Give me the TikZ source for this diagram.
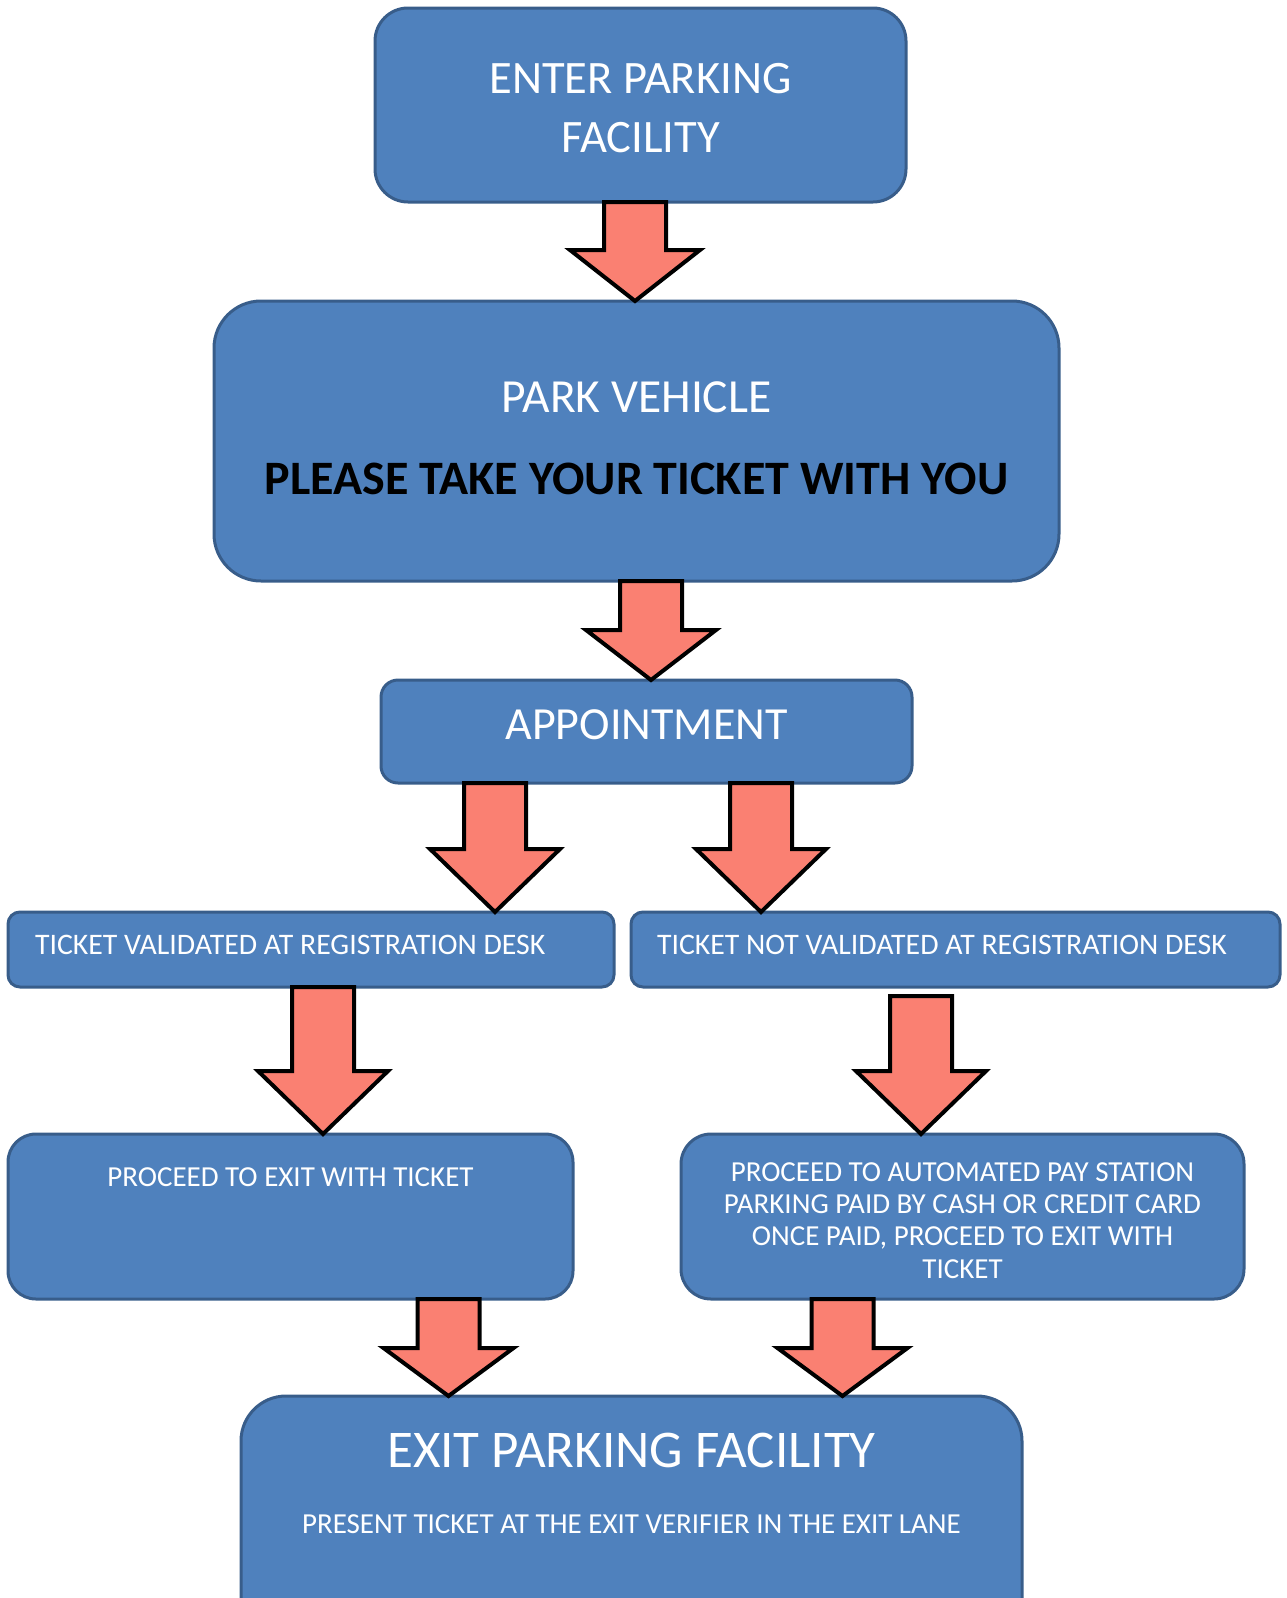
\documentclass[tikz,border=0pt]{standalone}
\usepackage{fontspec}
\setmainfont{Carlito}
\usepackage{xcolor}
\usepackage{tikz}
\usetikzlibrary{positioning}
\definecolor{boxblue}{HTML}{4F81BD}
\definecolor{boxedge}{HTML}{385D8A}
\definecolor{arrowred}{HTML}{FA8072}
\tikzstyle{bluebox}    = [rectangle, draw=boxedge, fill=boxblue, line width=3pt, outer sep=0pt, text=white, align=center]
\tikzstyle{bigfont}    = [font=\fontsize{46.5}{59}\selectfont]
\tikzstyle{smallfont}  = [font=\fontsize{29}{32.3}\selectfont]
\tikzstyle{blockarrow} = [draw=black, fill=arrowred, line width=4pt, line join=miter]

% block arrow: shaft x, from, to, head length
\newcommand{\bigarrow}[4]{%
  \path (#2 -| #1,0) coordinate (shaft) (#3 -| #1,0) coordinate (tip);
  \draw [blockarrow] ([xshift=-31pt]shaft) -- ([xshift=31pt]shaft)
    -- ([xshift=31pt,yshift=#4pt]tip) -- ([xshift=65pt,yshift=#4pt]tip) -- (tip)
    -- ([xshift=-65pt,yshift=#4pt]tip) -- ([xshift=-31pt,yshift=#4pt]tip) -- cycle;
}

\begin{document}
\begin{tikzpicture}[x=1pt, y=1pt]
    \useasboundingbox (0,0) rectangle (1286,-1598);
    \clip (0,0) rectangle (1286,-1598);

    \node (enter) [bluebox, bigfont, minimum width=531pt, minimum height=194pt, rounded corners=33pt, text height=94pt, text depth=0pt] at (640.5,-105) {ENTER PARKING\\FACILITY};
    \node (park) [bluebox, bigfont, minimum width=845pt, minimum height=280pt, rounded corners=47pt, text height=107pt, text depth=0pt, below=99pt of enter, xshift=-4pt] {{\fontsize{47.5}{59}\selectfont PARK VEHICLE}\\[23.5pt]\textcolor{black}{\fontsize{48}{59}\selectfont\bfseries PLEASE TAKE YOUR TICKET WITH YOU}};
    \node (appt) [bluebox, font=\fontsize{46}{59}\selectfont, minimum width=531pt, minimum height=103pt, rounded corners=17pt, text height=30pt, text depth=15pt, below=99pt of park, xshift=10pt] {APPOINTMENT};
    \node (val) [bluebox, font=\fontsize{29.8}{33}\selectfont, minimum height=75pt, rounded corners=12pt, text width=552pt, inner xsep=27pt, align=flush left, text depth=9pt, below=129pt of appt, xshift=-335.5pt] {TICKET VALIDATED AT REGISTRATION DESK};
    \node (notval) [bluebox, font=\fontsize{29.8}{33}\selectfont, minimum height=75pt, rounded corners=12pt, text width=597pt, inner xsep=26pt, align=flush left, text depth=9pt, right=17pt of val] {TICKET NOT VALIDATED AT REGISTRATION DESK};
    \node (exitw) [bluebox, smallfont, minimum width=565pt, minimum height=165pt, rounded corners=28pt, text depth=79pt, below=147pt of val.south west, anchor=north west] {PROCEED TO EXIT WITH TICKET};
    \node (payst) [bluebox, smallfont, minimum width=563pt, minimum height=165pt, rounded corners=30pt, text height=123.4pt, text depth=0pt, right=108pt of exitw] {PROCEED TO AUTOMATED PAY STATION\\PARKING PAID BY CASH OR CREDIT CARD\\ONCE PAID, PROCEED TO EXIT WITH\\TICKET};
    \node (exitf) [bluebox, smallfont, minimum width=781pt, rounded corners=45pt, inner ysep=37pt, text depth=150pt, below=97pt of exitw, xshift=341pt] {{\fontsize{53}{62}\selectfont EXIT PARKING FACILITY}\\[34pt]PRESENT TICKET AT THE EXIT VERIFIER IN THE EXIT LANE};

    \coordinate (notval-out) at ([yshift=-9pt]notval.south);

    \bigarrow{635}{enter.south}{park.north}{51}
    \bigarrow{651}{park.south}{appt.north}{50}
    \bigarrow{495}{appt.south}{val.north}{63}
    \bigarrow{761}{appt.south}{notval.north}{63}
    \bigarrow{323}{val.south}{exitw.north}{63}
    \bigarrow{921}{notval-out}{payst.north}{63}
    \bigarrow{448.5}{exitw.south}{exitf.north}{48}
    \bigarrow{842.5}{payst.south}{exitf.north}{48}
\end{tikzpicture}
\end{document}
